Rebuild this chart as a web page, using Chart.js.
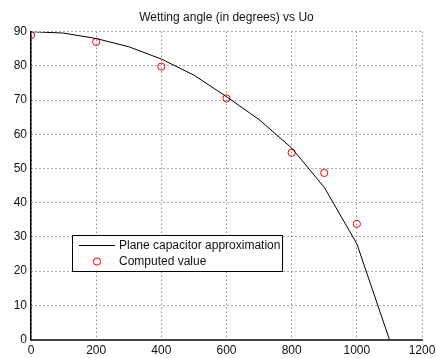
<!DOCTYPE html>
<html>
<head>
<meta charset="utf-8">
<script src="https://cdn.jsdelivr.net/npm/chart.js@4/dist/chart.umd.min.js"></script>
<style>
  body { margin: 0; background: #fff; }
  canvas { display: block; }
</style>
</head>
<body>
<canvas id="grafica" width="437" height="358"></canvas>
<script>
// Datos
const uLinea = [0, 100, 200, 300, 400, 500, 600, 700, 800, 900, 1000, 1100];
const anguloLinea = [90, 89.6, 88.0, 85.6, 82.0, 77.3, 71.0, 64.3, 56.0, 44.5, 28.0, 0];
const uCalculado = [0, 200, 400, 600, 800, 900, 1000];
const anguloCalculado = [89.0, 87.0, 79.8, 70.5, 54.6, 48.7, 33.8];
const etiquetas = ['Plane capacitor approximation', 'Computed value'];
const titulo = 'Wetting angle (in degrees) vs Uo';

const fuente = '"Liberation Sans", Arial, Helvetica, sans-serif';

// Leyenda dentro del area de la grafica
const leyendaInterna = {
  id: 'leyendaInterna',
  afterDraw(chart) {
    const ctx = chart.ctx;
    const x = 72.5, y = 235.5, w = 210, h = 36;
    ctx.save();
    ctx.fillStyle = '#fff';
    ctx.fillRect(x, y, w, h);
    ctx.strokeStyle = '#000';
    ctx.lineWidth = 1;
    ctx.strokeRect(x, y, w, h);
    ctx.font = '12px ' + fuente;
    ctx.fillStyle = '#111';
    ctx.textBaseline = 'middle';
    // fila 1: linea
    const d0 = chart.data.datasets[0];
    ctx.strokeStyle = d0.borderColor;
    ctx.beginPath();
    ctx.moveTo(79, 245.5);
    ctx.lineTo(115, 245.5);
    ctx.stroke();
    ctx.fillText(d0.label, 119, 245.5);
    // fila 2: circulo
    const d1 = chart.data.datasets[1];
    ctx.strokeStyle = d1.borderColor;
    ctx.beginPath();
    ctx.arc(97, 261.5, 3.6, 0, Math.PI * 2);
    ctx.stroke();
    ctx.fillText(d1.label, 119, 261.5);
    ctx.restore();
  }
};

new Chart(document.getElementById('grafica'), {
  type: 'scatter',
  data: {
    datasets: [
      {
        label: etiquetas[0],
        data: uLinea.map((u, i) => ({ x: u, y: anguloLinea[i] })),
        showLine: true,
        borderColor: '#000',
        borderWidth: 1,
        pointRadius: 0,
        tension: 0
      },
      {
        label: etiquetas[1],
        data: uCalculado.map((u, i) => ({ x: u, y: anguloCalculado[i] })),
        showLine: false,
        borderColor: '#ff0000',
        backgroundColor: 'rgba(0,0,0,0)',
        borderWidth: 1,
        pointStyle: 'circle',
        pointRadius: 3.6
      }
    ]
  },
  options: {
    responsive: false,
    animation: false,
    layout: { padding: { left: 0, right: 15, top: 0, bottom: 0 } },
    plugins: {
      legend: { display: false },
      tooltip: { enabled: false },
      title: {
        display: true,
        fullSize: false,
        text: titulo,
        color: '#111',
        font: { family: fuente, size: 12, weight: 'normal' },
        padding: { top: 10, bottom: 7.3 }
      }
    },
    scales: {
      x: {
        type: 'linear',
        min: 0,
        max: 1200,
        ticks: {
          stepSize: 200,
          color: '#111',
          padding: 4,
          maxRotation: 0,
          font: { family: fuente, size: 12 },
          callback: (v) => String(v)
        },
        grid: { color: '#555', lineWidth: 1, drawTicks: false },
        border: { color: '#444', width: 2, dash: [1, 3] },
        afterFit(scale) {
          scale.height = 18.5;
          scale.paddingLeft = 0;
          scale.paddingRight = 0;
        }
      },
      y: {
        min: 0,
        max: 90,
        ticks: {
          stepSize: 10,
          color: '#111',
          padding: 4,
          font: { family: fuente, size: 12 }
        },
        grid: { color: '#555', lineWidth: 1, drawTicks: false },
        border: { color: '#000', width: 1.5, dash: [1, 3] },
        afterFit(scale) {
          scale.width = 31;
          scale.paddingTop = 0;
          scale.paddingBottom = 0;
        }
      }
    }
  },
  plugins: [leyendaInterna]
});
</script>
</body>
</html>
